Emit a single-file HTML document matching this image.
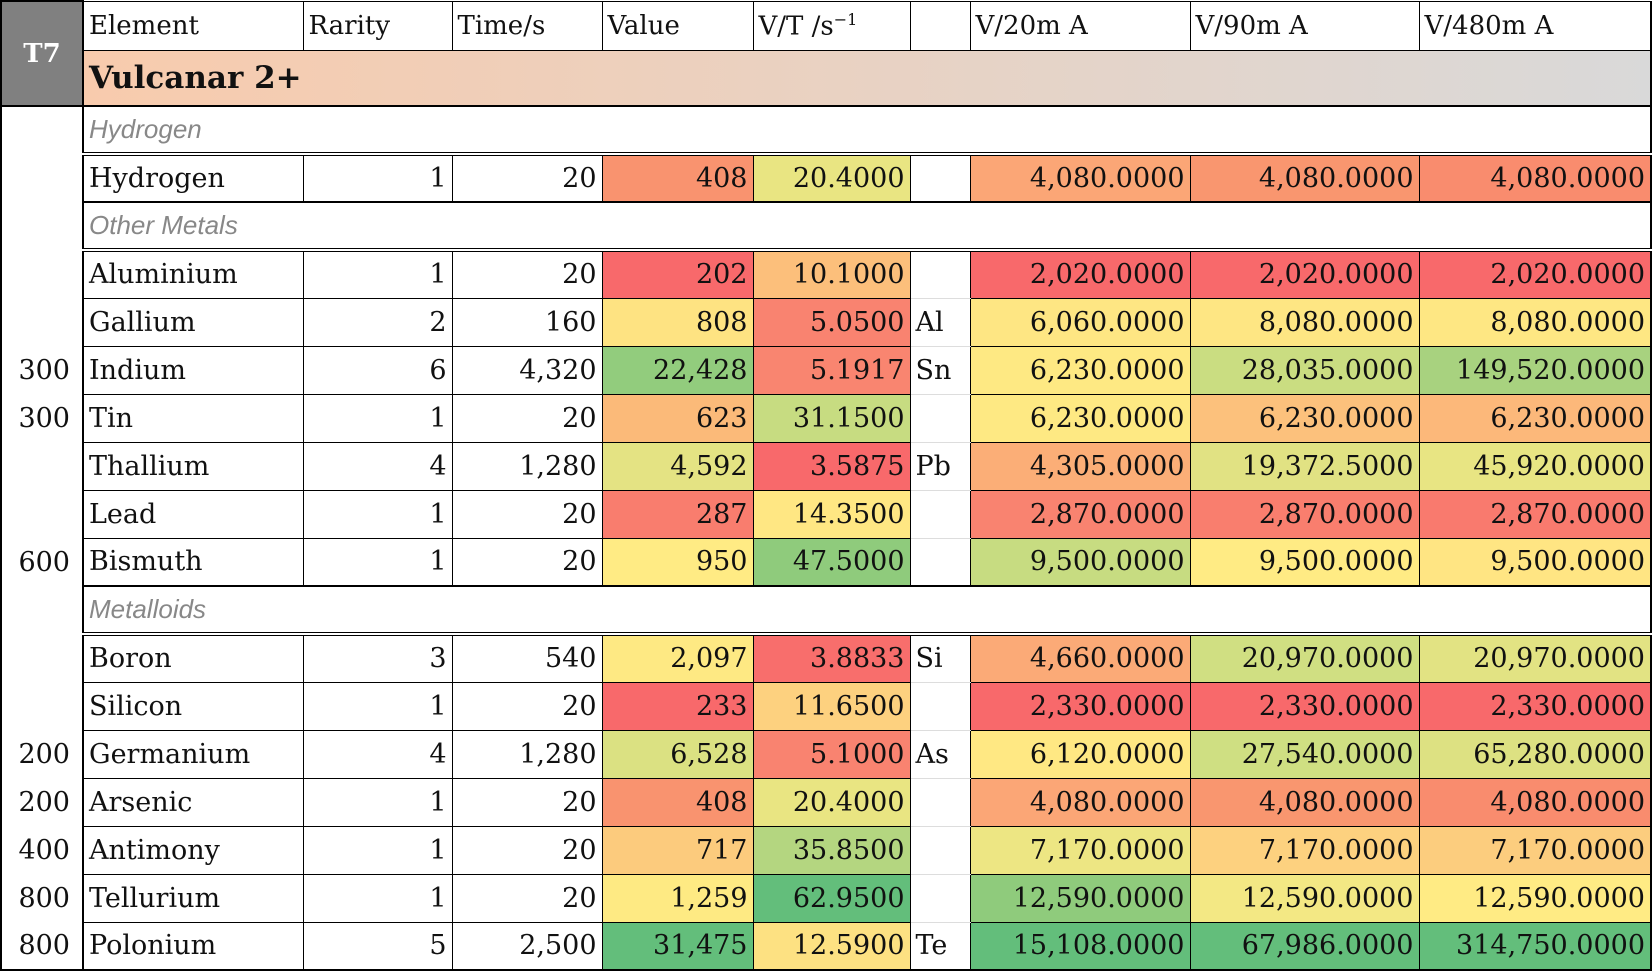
<!DOCTYPE html>
<html><head><meta charset="utf-8"><style>
html,body{margin:0;padding:0;background:#fff;width:1652px;height:970px;overflow:hidden}
table{border-collapse:collapse;table-layout:fixed;font-family:"DejaVu Serif","Liberation Serif",serif;font-size:27px;color:#111;position:absolute;left:0;top:0}
td{padding:0 5px;border:1px solid #000;white-space:nowrap;overflow:hidden;height:48px;box-sizing:border-box}
.r{text-align:right}
.hd td{height:49px;font-size:26px;vertical-align:middle}
.t7{background:#808080;color:#fff;font-weight:bold;text-align:center;font-size:27px;border:2px solid #000;vertical-align:middle!important}
.title td.tt{height:56px;font-weight:bold;font-size:31px;background:linear-gradient(90deg,#f8cbad,#d9d9d9);border-bottom:2px solid #000}
td.left{border:none;border-right:2px solid #000;border-left:2px solid #000;text-align:right;padding-right:12px;background:#fff}
.g td.gl{font-family:"Liberation Sans","DejaVu Sans",sans-serif;font-style:italic;color:#888;font-size:26px;border-bottom:4px double #000;border-right:2px solid #000}
.sym{border-top:1px solid #ddd;border-bottom:1px solid #ddd}
.end td{border-bottom:2px solid #000}
.end td.left{border-bottom:none}
.lastc{border-right:2px solid #000}
</style></head><body>
<table>
<colgroup><col style="width:82px"><col style="width:220px"><col style="width:149px"><col style="width:150px"><col style="width:151px"><col style="width:157px"><col style="width:60px"><col style="width:220px"><col style="width:229px"><col style="width:232px"></colgroup>
<tr class="hd"><td class="t7" rowspan="2">T7</td><td>Element</td><td>Rarity</td><td>Time/s</td><td>Value</td><td>V/T /s<sup style="font-size:16px">−1</sup></td><td></td><td>V/20m A</td><td>V/90m A</td><td class="lastc">V/480m A</td></tr>
<tr class="title"><td class="tt lastc" colspan="9">Vulcanar 2+</td></tr>
<tr class="g"><td class="left"></td><td class="gl" colspan="9">Hydrogen</td></tr>
<tr class="end"><td class="left"></td><td>Hydrogen</td><td class="r">1</td><td class="r">20</td><td class="r" style="background:#f9936f">408</td><td class="r" style="background:#e9e582">20.4000</td><td class="sym"></td><td class="r" style="background:#fba676">4,080.0000</td><td class="r" style="background:#f9966f">4,080.0000</td><td class="r lastc" style="background:#f98c6e">4,080.0000</td></tr>
<tr class="g"><td class="left"></td><td class="gl" colspan="9">Other Metals</td></tr>
<tr><td class="left"></td><td>Aluminium</td><td class="r">1</td><td class="r">20</td><td class="r" style="background:#f8696b">202</td><td class="r" style="background:#fcbf7b">10.1000</td><td class="sym"></td><td class="r" style="background:#f8696b">2,020.0000</td><td class="r" style="background:#f8696b">2,020.0000</td><td class="r lastc" style="background:#f8696b">2,020.0000</td></tr>
<tr><td class="left"></td><td>Gallium</td><td class="r">2</td><td class="r">160</td><td class="r" style="background:#fee382">808</td><td class="r" style="background:#f98370">5.0500</td><td class="sym">Al</td><td class="r" style="background:#fee683">6,060.0000</td><td class="r" style="background:#fee683">8,080.0000</td><td class="r lastc" style="background:#fee783">8,080.0000</td></tr>
<tr><td class="left">300</td><td>Indium</td><td class="r">6</td><td class="r">4,320</td><td class="r" style="background:#92cc7d">22,428</td><td class="r" style="background:#f98570">5.1917</td><td class="sym">Sn</td><td class="r" style="background:#fee983">6,230.0000</td><td class="r" style="background:#cadd81">28,035.0000</td><td class="r lastc" style="background:#a8d27f">149,520.0000</td></tr>
<tr><td class="left">300</td><td>Tin</td><td class="r">1</td><td class="r">20</td><td class="r" style="background:#fbba79">623</td><td class="r" style="background:#c7dc81">31.1500</td><td class="sym"></td><td class="r" style="background:#fee983">6,230.0000</td><td class="r" style="background:#fcc17c">6,230.0000</td><td class="r lastc" style="background:#fcb87a">6,230.0000</td></tr>
<tr><td class="left"></td><td>Thallium</td><td class="r">4</td><td class="r">1,280</td><td class="r" style="background:#e4e383">4,592</td><td class="r" style="background:#f8696b">3.5875</td><td class="sym">Pb</td><td class="r" style="background:#fbae77">4,305.0000</td><td class="r" style="background:#e1e283">19,372.5000</td><td class="r lastc" style="background:#e8e583">45,920.0000</td></tr>
<tr><td class="left"></td><td>Lead</td><td class="r">1</td><td class="r">20</td><td class="r" style="background:#f97d6e">287</td><td class="r" style="background:#ffe783">14.3500</td><td class="sym"></td><td class="r" style="background:#f98370">2,870.0000</td><td class="r" style="background:#f97e6e">2,870.0000</td><td class="r lastc" style="background:#f97a6e">2,870.0000</td></tr>
<tr class="end"><td class="left">600</td><td>Bismuth</td><td class="r">1</td><td class="r">20</td><td class="r" style="background:#ffeb84">950</td><td class="r" style="background:#8fcb7c">47.5000</td><td class="sym"></td><td class="r" style="background:#c7dc81">9,500.0000</td><td class="r" style="background:#ffeb84">9,500.0000</td><td class="r lastc" style="background:#ffe583">9,500.0000</td></tr>
<tr class="g"><td class="left"></td><td class="gl" colspan="9">Metalloids</td></tr>
<tr><td class="left"></td><td>Boron</td><td class="r">3</td><td class="r">540</td><td class="r" style="background:#fee983">2,097</td><td class="r" style="background:#f86e6c">3.8833</td><td class="sym">Si</td><td class="r" style="background:#fbaa77">4,660.0000</td><td class="r" style="background:#d0df82">20,970.0000</td><td class="r lastc" style="background:#e2e383">20,970.0000</td></tr>
<tr><td class="left"></td><td>Silicon</td><td class="r">1</td><td class="r">20</td><td class="r" style="background:#f8696b">233</td><td class="r" style="background:#fdd17f">11.6500</td><td class="sym"></td><td class="r" style="background:#f8696b">2,330.0000</td><td class="r" style="background:#f8696b">2,330.0000</td><td class="r lastc" style="background:#f8696b">2,330.0000</td></tr>
<tr><td class="left">200</td><td>Germanium</td><td class="r">4</td><td class="r">1,280</td><td class="r" style="background:#dbe182">6,528</td><td class="r" style="background:#f98370">5.1000</td><td class="sym">As</td><td class="r" style="background:#ffe883">6,120.0000</td><td class="r" style="background:#cfdf82">27,540.0000</td><td class="r lastc" style="background:#dde182">65,280.0000</td></tr>
<tr><td class="left">200</td><td>Arsenic</td><td class="r">1</td><td class="r">20</td><td class="r" style="background:#f9936f">408</td><td class="r" style="background:#e9e582">20.4000</td><td class="sym"></td><td class="r" style="background:#fba676">4,080.0000</td><td class="r" style="background:#f9966f">4,080.0000</td><td class="r lastc" style="background:#f98c6e">4,080.0000</td></tr>
<tr><td class="left">400</td><td>Antimony</td><td class="r">1</td><td class="r">20</td><td class="r" style="background:#fccb7d">717</td><td class="r" style="background:#b4d680">35.8500</td><td class="sym"></td><td class="r" style="background:#ede683">7,170.0000</td><td class="r" style="background:#fdd17f">7,170.0000</td><td class="r lastc" style="background:#fccd7e">7,170.0000</td></tr>
<tr><td class="left">800</td><td>Tellurium</td><td class="r">1</td><td class="r">20</td><td class="r" style="background:#feea83">1,259</td><td class="r" style="background:#63be7b">62.9500</td><td class="sym"></td><td class="r" style="background:#8fcb7c">12,590.0000</td><td class="r" style="background:#f3e884">12,590.0000</td><td class="r lastc" style="background:#ffeb84">12,590.0000</td></tr>
<tr class="end"><td class="left" style="border-bottom:2px solid #000">800</td><td>Polonium</td><td class="r">5</td><td class="r">2,500</td><td class="r" style="background:#63be7b">31,475</td><td class="r" style="background:#fde182">12.5900</td><td class="sym" style="border-bottom:2px solid #000">Te</td><td class="r" style="background:#63be7b">15,108.0000</td><td class="r" style="background:#63be7b">67,986.0000</td><td class="r lastc" style="background:#63be7b">314,750.0000</td></tr>
</table>
</body></html>
